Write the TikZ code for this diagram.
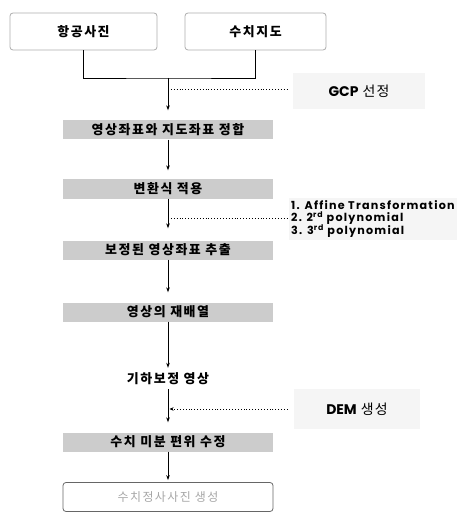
\documentclass[tikz,border=0pt]{standalone}
\usepackage{fontspec}
\setmainfont{Noto Sans CJK KR}
\newfontfamily\en{Poppins}
\usetikzlibrary{arrows.meta}
\begin{document}
\begin{tikzpicture}[x=1bp,y=-1bp,
  kfont/.style={font=\addfontfeature{LetterSpace=12}\bfseries\fontsize{13}{15}\selectfont},
  topbox/.style={draw=gray!65, line width=0.8bp, rounded corners=3bp, minimum height=37bp, inner sep=0pt, kfont},
  bar/.style={fill=gray!40, minimum width=210bp, minimum height=19bp, inner sep=0pt, kfont},
  flow/.style={-{Stealth[length=5bp,width=3.6bp]}, line width=1bp, shorten >=9bp},
  dotline/.style={dotted, line width=0.9bp},
  note/.style={fill=gray!8, inner sep=0pt},
  notefont/.style={font=\addfontfeature{LetterSpace=8}\fontsize{14}{16}\selectfont}
]
\useasboundingbox (0,0) rectangle (462,514);
% top boxes
\node[topbox, minimum width=147bp] (b1) at (83.5,31.5) {항공사진};
\node[topbox, minimum width=141bp] (b2) at (255.5,31.5) {수치지도};
\coordinate (j) at (168,78);
\draw[line width=0.9bp] (b1.south) |- (j) -| (b2.south);
% flow bars
\node[bar] (s1) at (168,130) {영상좌표와 지도좌표 정합};
\node[bar] (s2) at (168,189) {변환식 적용};
\node[bar] (s3) at (168,250) {보정된 영상좌표 추출};
\node[bar] (s4) at (168,312) {영상의 재배열};
\node[kfont, inner sep=0pt, minimum height=16bp] (s5) at (168,379) {기하보정 영상};
\node[bar] (s6) at (168,442) {수치 미분 편위 수정};
\node[draw=gray!80!black, line width=0.8bp, rounded corners=3bp, minimum width=210bp, minimum height=29bp, inner sep=0pt,
      text=gray!70, font=\addfontfeature{LetterSpace=12}\fontsize{12}{14}\selectfont] (s7) at (168,497) {수치정사사진 생성};
% arrows
\draw[flow, shorten >=10bp] (j) -- (j |- s1.north);
\draw[flow] (s1) -- (s2);
\draw[flow, shorten >=12bp] (s2) -- (s3);
\draw[flow, shorten >=10bp] (s3) -- (s4);
\draw[flow, shorten >=3bp] (s4) -- (s5);
\draw[flow, shorten >=10bp, shorten <=2bp] (s5) -- (s6);
\draw[flow, shorten >=2bp] (s6) -- (s7);
% side notes
\node[note, notefont, minimum width=132bp, minimum height=36bp] (gcp) at (359,91) {{\en\bfseries GCP} 선정};
\coordinate (g) at (168,89);
\draw[dotline, shorten >=6bp] (g) -- (g -| gcp.west);

\node[note, anchor=west, align=left, inner sep=2bp, font=\en\bfseries\addfontfeature{LetterSpace=11}\fontsize{11.2}{12.2}\selectfont] (tr) at (289,219)
  {1. Affine Transformation\\2. 2\textsuperscript{rd} polynomial\\3. 3\textsuperscript{rd} polynomial};
\coordinate (t) at (168,218);
\draw[dotline] (t) -- (t -| tr.west);

\node[note, notefont, minimum width=126bp, minimum height=40bp] (dem) at (357,409) {{\en\bfseries DEM} 생성};
\coordinate (d) at (168,409);
\draw[dotline, -{Stealth[length=4bp,width=3.5bp]}, shorten >=1.5bp, shorten <=6bp] (dem.west |- d) -- (d);
\end{tikzpicture}
\end{document}
